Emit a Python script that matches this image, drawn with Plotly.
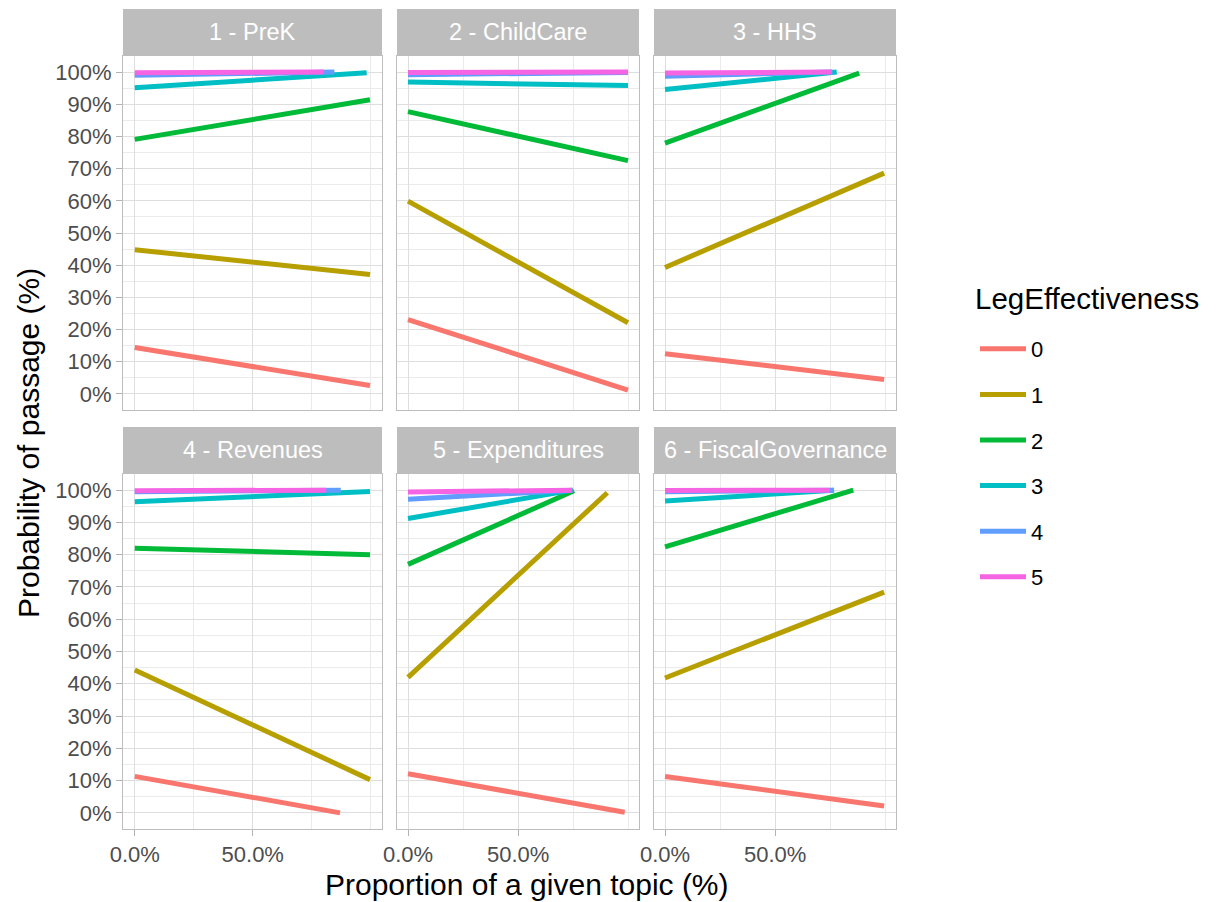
import plotly.graph_objects as go

# ---------------- data ----------------
topics = ["1 - PreK", "2 - ChildCare", "3 - HHS",
          "4 - Revenues", "5 - Expenditures", "6 - FiscalGovernance"]
levels = ["0", "1", "2", "3", "4", "5"]
colors = ["#F8766D", "#B79F00", "#00BA38", "#00BFC4", "#619CFF", "#F564E3"]

# each line runs from proportion 0 to x_end; probability goes y_start -> y_end
x_end = {
    "1 - PreK":             [0.997, 0.997, 0.997, 0.983, 0.846, 0.800],
    "2 - ChildCare":        [0.998, 0.998, 0.998, 0.998, 0.998, 0.998],
    "3 - HHS":              [0.994, 0.994, 0.881, 0.779, 0.760, 0.756],
    "4 - Revenues":         [0.870, 0.997, 0.997, 0.997, 0.873, 0.811],
    "5 - Expenditures":     [0.983, 0.904, 0.753, 0.748, 0.745, 0.745],
    "6 - FiscalGovernance": [0.994, 0.994, 0.854, 0.767, 0.767, 0.748],
}
y_start = {
    "1 - PreK":             [0.144, 0.448, 0.791, 0.951, 0.990, 0.998],
    "2 - ChildCare":        [0.231, 0.599, 0.877, 0.969, 0.992, 0.999],
    "3 - HHS":              [0.125, 0.393, 0.779, 0.946, 0.987, 0.997],
    "4 - Revenues":         [0.113, 0.443, 0.820, 0.964, 0.995, 0.998],
    "5 - Expenditures":     [0.121, 0.420, 0.770, 0.912, 0.972, 0.994],
    "6 - FiscalGovernance": [0.113, 0.418, 0.824, 0.966, 0.995, 0.999],
}
y_end = {
    "1 - PreK":             [0.026, 0.371, 0.914, 0.998, 1.000, 1.000],
    "2 - ChildCare":        [0.012, 0.221, 0.725, 0.958, 0.999, 1.000],
    "3 - HHS":              [0.045, 0.686, 0.997, 1.000, 1.000, 1.000],
    "4 - Revenues":         [0.000, 0.103, 0.800, 0.996, 1.000, 1.000],
    "5 - Expenditures":     [0.002, 0.992, 0.998, 1.000, 1.000, 1.000],
    "6 - FiscalGovernance": [0.021, 0.684, 1.000, 1.000, 1.000, 1.000],
}
y_ticks = [i / 10 for i in range(11)]
y_tick_labels = [f"{i*10}%" for i in range(11)]
x_ticks = [0.0, 0.5]
x_tick_labels = ["0.0%", "50.0%"]

# ---------------- layout geometry ----------------
OFF = 8  # page body margin
W, H = 1217 - OFF, 902 - OFF
FONT = "Liberation Sans, Arial, sans-serif"
col_px = [(123, 382), (397, 639), (654, 896)]
row_px = [(56, 410), (474, 829)]
strip_px = [(9, 56), (427, 474)]


def px(x):
    return (x - OFF) / W


def py(y):
    return 1 - (y - OFF) / H


xmax = max(max(v) for v in x_end.values())
xr = [-0.05 * xmax, 1.05 * xmax]
all_y = [v for d in (y_start, y_end) for l in d.values() for v in l]
ymin, ymax = min(all_y), max(all_y)
yspan = ymax - ymin
yr = [ymin - 0.05 * yspan, ymax + 0.05 * yspan]

fig = go.Figure()

for t_i, topic in enumerate(topics):
    ax = "" if t_i == 0 else str(t_i + 1)
    for l_i, lev in enumerate(levels):
        fig.add_trace(go.Scatter(
            x=[0.0, x_end[topic][l_i]],
            y=[y_start[topic][l_i], y_end[topic][l_i]],
            mode="lines",
            line=dict(color=colors[l_i], width=5),
            name=lev, legendgroup=lev, showlegend=(t_i == 0),
            xaxis="x" + ax, yaxis="y" + ax, hoverinfo="skip",
        ))

shapes = []
annotations = []
for t_i, topic in enumerate(topics):
    r, c = divmod(t_i, 3)
    ax = "" if t_i == 0 else str(t_i + 1)
    x0, x1 = col_px[c]
    y0, y1 = row_px[r]
    xa = dict(
        domain=[px(x0), px(x1)], range=xr, anchor="y" + ax,
        tickvals=x_ticks, ticktext=x_tick_labels if r == 1 else None,
        showticklabels=(r == 1),
        ticks="outside" if r == 1 else "", ticklen=6, tickcolor="#B3B3B3",
        tickfont=dict(size=22, color="#4D4D4D", family=FONT),
        showgrid=True, gridcolor="#DEDEDE", gridwidth=1,
        minor=dict(tickvals=[0.25, 0.75, 1.0], showgrid=True,
                   gridcolor="#EBEBEB", gridwidth=0.6, ticks=""),
        zeroline=False, showline=True, mirror=True,
        linecolor="#BDBDBD", linewidth=1, automargin=False, fixedrange=True,
    )
    ya = dict(
        domain=[py(y1), py(y0)], range=yr, anchor="x" + ax,
        tickvals=y_ticks, ticktext=y_tick_labels if c == 0 else None,
        showticklabels=(c == 0),
        ticks="outside" if c == 0 else "", ticklen=6, tickcolor="#B3B3B3",
        tickfont=dict(size=22, color="#4D4D4D", family=FONT),
        showgrid=True, gridcolor="#DEDEDE", gridwidth=1,
        minor=dict(tickvals=[i / 10 + 0.05 for i in range(10)], showgrid=True,
                   gridcolor="#EBEBEB", gridwidth=0.6, ticks=""),
        zeroline=False, showline=True, mirror=True,
        linecolor="#BDBDBD", linewidth=1, automargin=False, fixedrange=True,
    )
    fig.layout["xaxis" + ax] = xa
    fig.layout["yaxis" + ax] = ya
    s0, s1 = strip_px[r]
    shapes.append(dict(type="rect", xref="paper", yref="paper",
                       x0=px(x0), x1=px(x1), y0=py(s1), y1=py(s0),
                       fillcolor="#BDBDBD", line=dict(width=0), layer="below"))
    annotations.append(dict(text=topic, xref="paper", yref="paper",
                            x=px((x0 + x1) / 2), y=py((s0 + s1) / 2),
                            xanchor="center", yanchor="middle", showarrow=False,
                            font=dict(size=23.5, color="white", family=FONT)))

annotations.append(dict(text="Probability of passage (%)", xref="paper", yref="paper",
                        x=px(28), y=py(443), textangle=-90, showarrow=False,
                        xanchor="center", yanchor="middle",
                        font=dict(size=30, color="black", family=FONT)))
annotations.append(dict(text="Proportion of a given topic (%)", xref="paper", yref="paper",
                        x=px(527), y=py(884), showarrow=False,
                        xanchor="center", yanchor="middle",
                        font=dict(size=30, color="black", family=FONT)))
# legend title
annotations.append(dict(text="LegEffectiveness", xref="paper", yref="paper",
                        x=px(973), y=py(298), showarrow=False,
                        xanchor="left", yanchor="middle",
                        font=dict(size=29.5, color="black", family=FONT)))

fig.update_layout(
    width=W, height=H,
    margin=dict(l=0, r=0, t=0, b=0),
    paper_bgcolor="white", plot_bgcolor="white",
    shapes=shapes, annotations=annotations,
    font=dict(family=FONT),
    legend=dict(
        font=dict(size=22, color="black", family=FONT),
        x=px(975), y=py(328), xanchor="left", yanchor="top",
        traceorder="grouped", tracegroupgap=14, itemwidth=46,
        bgcolor="rgba(0,0,0,0)", borderwidth=0,
    ),
)

fig.write_html("out.html")
